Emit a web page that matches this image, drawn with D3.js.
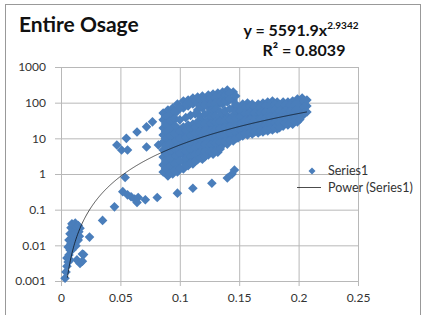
<!DOCTYPE html>
<html>
<head>
<meta charset="utf-8">
<script src="https://cdn.jsdelivr.net/npm/d3@7"></script>
<style>
  body { margin: 0; background: #fff; }
  text { font-family: Lato, "Open Sans", sans-serif; }
</style>
</head>
<body>
<svg id="chart" width="425" height="315"></svg>
<script>
// values (Series1)
var lowCluster = [
  [0.0034,0.0012],[0.0042,0.0018],[0.005,0.0026],[0.006,0.0034],[0.005,0.0044],[0.0067,0.0054],
  [0.0076,0.0074],[0.006,0.009],[0.0084,0.011],[0.0067,0.014],[0.0092,0.016],[0.0076,0.021],
  [0.010,0.025],[0.0084,0.031],[0.011,0.035],[0.0092,0.04],[0.012,0.042],[0.0126,0.027],
  [0.0134,0.018],[0.011,0.012],[0.0092,0.0074],[0.0126,0.0098],[0.0076,0.0039],[0.0134,0.0039],
  [0.016,0.0031],[0.018,0.0057],[0.014,0.031],[0.0105,0.019],[0.0118,0.022],[0.013,0.033],
  [0.015,0.024],[0.0145,0.014],[0.0155,0.018],[0.016,0.03],[0.0145,0.036]
];
var midPoints = [
  [0.018,0.0036],[0.019,0.0055],[0.024,0.017],[0.035,0.05],[0.045,0.12],[0.052,0.32],
  [0.056,0.26],[0.059,0.23],[0.062,0.2],[0.064,0.16],[0.065,0.22],[0.071,0.19],[0.081,0.22],
  [0.098,0.29],[0.111,0.4],[0.127,0.55],[0.140,0.77],[0.144,1.0],[0.146,1.3],[0.054,0.8]
];
var leftUpper = [
  [0.047,6.5],[0.051,4.7],[0.056,4.7],[0.055,10],[0.064,15],[0.072,21],[0.077,29],
  [0.072,5.7],[0.082,6.5]
];
// main band, one column of y values per x value
var bandX = [0.086,0.090,0.094,0.098,0.103,0.107,0.111,0.115,0.119,0.124,0.128,0.132,0.136,0.140,
  0.145,0.149,0.153,0.157,0.161,0.166,0.170,0.174,0.178,0.182,0.187,0.191,0.195,0.199,0.203,0.207];
var bandY = [
  [51,33,19.5,12.4,7.9,4.7,3.0,1.8,1.14],
  [62,40,23.6,15,9,5.7,3.4,2.2,1.29,0.88],
  [71,45,29,17.1,10.9,6.5,4.1,2.5,1.57,1.0],
  [92,58,19.5,12.4,7.9,4.7,3.0,1.8,1.14],
  [111,71,20.8,13.2,8.4,5.35,3.4,2.2,1.38],
  [119,81,23.6,15,9.6,6.1,3.9,2.5,1.7],
  [135,92,25,17.1,10.9,6.9,4.4,2.8,1.9],
  [144,98,62,29,19.5,12.4,7.9,5.0,3.2,2.5],
  [154,104,71,31,20.8,13.2,8.4,5.35,3.4,2.6],
  [164,111,75,48,33,20.8,13.2,8.4,5.35,3.4],
  [175,119,81,51,35,22,14.1,9.0,5.7,3.6],
  [187,127,86,37,23.6,15,9.6,6.1,4.1],
  [199,135,92,40,25,16,10.2,6.5],
  [226,154,104,42,27,17.1,10.9,6.9],
  [199,119,71,45,29,18.2,11.6,8.4],
  [71,48,33,20.8,13.2,10.2],
  [92,62,40,25,16,11.6],
  [98,66,42,27,17.1,12.4],
  [92,62,42,27,17.1,13.2],
  [92,62,42,29,18.2,14.1],
  [98,66,45,29,19.5,15],
  [104,71,48,33,20.8,16],
  [111,75,51,35,22,17.1],
  [104,71,48,33,22,18.2],
  [104,71,48,33,22],
  [104,71,48,33,23.6],
  [111,75,51,35,25],
  [127,86,58,40,29],
  [135,92,62,42],
  [119,81,55]
];
// the points sitting between those columns
var bandX2 = [0.088,0.092,0.096,0.100,0.105,0.109,0.113,0.117,0.121,0.126,0.130,0.134,0.138,0.142,
  0.147,0.151,0.155,0.159,0.163,0.168,0.172,0.176,0.180,0.184,0.189,0.193,0.197,0.201,0.205];
var bandY2 = [
  [41,25.4,15.5,9.9,6.1,3.75,2.3,1.43],
  [50,30.7,18.8,11.6,7.2,4.4,2.7,1.68,1.07],
  [56.5,36,22.3,13.7,8.4,5.2,3.2,1.98,1.25],
  [73,33,15.5,9.9,6.1,3.75,2.3,1.43],
  [89,38,16.6,10.5,6.7,4.3,2.7,1.74],
  [98,44,18.8,12,7.7,4.9,3.1,2.05],
  [111,48,20.7,13.7,8.7,5.5,3.5,2.3],
  [119,78,42,23.8,15.5,9.9,6.3,4.0,2.8],
  [127,86,47,25.4,16.6,10.5,6.7,4.3,3.0],
  [135,91,60,40,26,16.6,10.5,6.7,4.3],
  [144,98,64,42,28,17.6,11.3,7.2,4.5],
  [154,104,56,29.5,18.8,12,7.7,5.0],
  [164,111,60,31.6,20,12.8,8.1],
  [187,127,66,33.7,21.5,13.7,8.7],
  [154,92,56.5,36,23,14.5,9.9],
  [58,40,26,16.6,11.6],
  [75.5,50,31.6,20,13.6],
  [80,53,33.7,21.5,14.6],
  [75.5,51,33.7,21.5,15],
  [75.5,51,35,23,16],
  [80,54.5,36,23.8,17.1],
  [86,58,40,26,18.2],
  [91,62,42,27.7,19.4],
  [86,58,40,27,20],
  [86,58,40,27],
  [86,58,40,28],
  [91,62,42,29.6],
  [104,71,48,34],
  [111,75.5,51]
];

var xTicks = [0, 0.05, 0.1, 0.15, 0.2, 0.25];
var xTickLabels = ["0", "0.05", "0.1", "0.15", "0.2", "0.25"];
var yTicks = [0.001, 0.01, 0.1, 1, 10, 100, 1000];
var yTickLabels = ["0.001", "0.01", "0.1", "1", "10", "100", "1000"];

// power trendline from the chart
var trendA = 5591.9, trendB = 2.9342;

var blue = "#4a7ebb";
var gridColor = "#b8b8b8";

var svg = d3.select("#chart");

var plotL = 61, plotR = 358, plotT = 67, plotB = 281;
var x = d3.scaleLinear().domain([0, 0.25]).range([plotL, plotR]);
var y = d3.scaleLog().domain([0.001, 1000]).range([plotB, plotT]);

// chart frame
svg.append("rect").attr("x", 5.5).attr("y", 4.5).attr("width", 415).attr("height", 320)
  .attr("fill", "none").attr("stroke", "#999");

// gridlines + tick labels
var yAxis = svg.append("g").attr("transform", "translate(" + plotL + ",0)")
  .call(d3.axisLeft(y).tickValues(yTicks).tickFormat(function(d, i) { return yTickLabels[i]; })
    .tickSize(-(plotR - plotL)).tickPadding(15));
yAxis.select(".domain").remove();
yAxis.selectAll(".tick line").attr("x1", -6).attr("stroke", gridColor);
yAxis.selectAll(".tick text").attr("font-size", 12).attr("fill", "#333").style("font-family", "Lato");

var xAxis = svg.append("g").attr("transform", "translate(0," + plotB + ")")
  .call(d3.axisBottom(x).tickValues(xTicks).tickFormat(function(d, i) { return xTickLabels[i]; })
    .tickSize(-(plotB - plotT)).tickPadding(12));
xAxis.select(".domain").remove();
xAxis.selectAll(".tick line").attr("y1", 5).attr("stroke", gridColor);
xAxis.selectAll(".tick text").attr("font-size", 12).attr("fill", "#333").style("font-family", "Lato");

// all points
var points = lowCluster.concat(midPoints, leftUpper);
bandX.forEach(function(bx, i) {
  bandY[i].forEach(function(by) { points.push([bx, by]); });
});
bandX2.forEach(function(bx, i) {
  bandY2[i].forEach(function(by) { points.push([bx, by]); });
});

var r = 4.8;
var diamond = "M0," + (-r) + "L" + r + ",0L0," + r + "L" + (-r) + ",0Z";

svg.append("g").selectAll("path")
  .data(points)
  .enter().append("path")
  .attr("d", diamond)
  .attr("transform", function(d) { return "translate(" + x(d[0]) + "," + y(d[1]) + ")"; })
  .attr("fill", blue);

// trendline over the data's x range, clipped at the bottom of the plot
var xMin = d3.min(points, function(d) { return d[0]; });
var xMax = d3.max(points, function(d) { return d[0]; });
var trend = d3.range(xMin, xMax, 0.0005).concat([xMax])
  .map(function(v) { return [v, trendA * Math.pow(v, trendB)]; })
  .filter(function(d) { return d[1] >= 0.001; });

svg.append("path")
  .datum(trend)
  .attr("fill", "none")
  .attr("stroke", "#000")
  .attr("stroke-opacity", 0.65)
  .attr("stroke-width", 1)
  .attr("d", d3.line().x(function(d) { return x(d[0]); }).y(function(d) { return y(d[1]); }));

// title + equation
svg.append("text").attr("x", 19).attr("y", 32).attr("font-size", 21).attr("font-weight", "bold")
  .attr("fill", "#111").text("Entire Osage");

var eq = svg.append("text").attr("x", 301).attr("y", 36).attr("text-anchor", "middle")
  .attr("font-size", 16).attr("font-weight", "bold").attr("fill", "#111");
eq.append("tspan").text("y = 5591.9x");
eq.append("tspan").attr("font-size", 10).attr("dy", -7).text("2.9342");

svg.append("text").attr("x", 304).attr("y", 56).attr("text-anchor", "middle")
  .attr("font-size", 16).attr("font-weight", "bold").attr("fill", "#111").text("R² = 0.8039");

// legend
var legend = svg.append("g");
legend.append("path").attr("d", "M0,-3.5L3.5,0L0,3.5L-3.5,0Z")
  .attr("transform", "translate(312,171)").attr("fill", blue);
legend.append("text").attr("x", 328).attr("y", 175).attr("font-size", 12.5).attr("fill", "#333").text("Series1");
legend.append("line").attr("x1", 297).attr("x2", 321).attr("y1", 187.5).attr("y2", 187.5)
  .attr("stroke", "#000").attr("stroke-opacity", 0.7);
legend.append("text").attr("x", 328).attr("y", 192).attr("font-size", 12.5).attr("fill", "#333").text("Power (Series1)");
</script>
</body>
</html>
